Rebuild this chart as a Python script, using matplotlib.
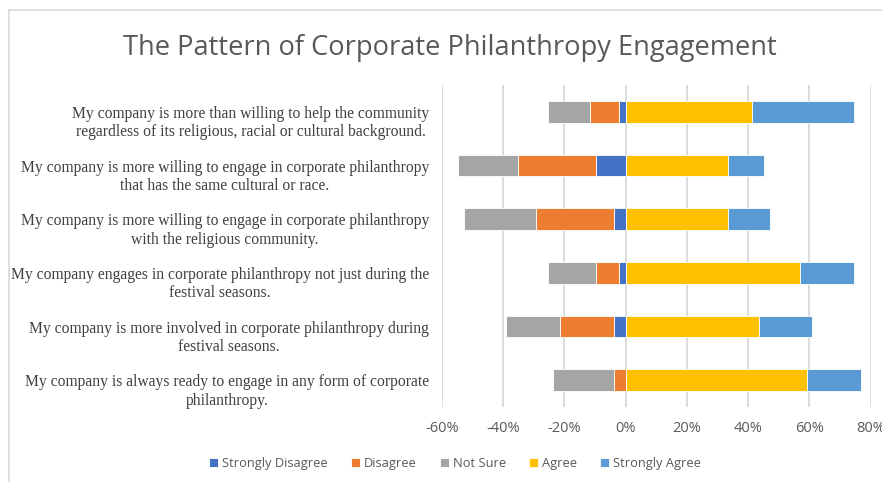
import matplotlib.pyplot as plt
import numpy as np
from matplotlib.patches import Rectangle

statements = [
    "My company is more than willing to help the community\nregardless of its religious, racial or cultural background.",
    "My company is more willing to engage in corporate philanthropy\nthat has the same cultural or race.",
    "My company is more willing to engage in corporate philanthropy\nwith the religious community.",
    "My company engages in corporate philanthropy not just during the\nfestival seasons.",
    "My company is more involved in corporate philanthropy during\nfestival seasons.",
    "My company is always ready to engage in any form of corporate\nphilanthropy.",
]
# percentages, rows listed top to bottom
strongly_disagree = [2.0, 9.8, 3.8, 2.0, 3.8, 0.0]
disagree = [9.7, 25.4, 25.5, 7.8, 17.7, 3.8]
not_sure = [13.7, 19.5, 23.4, 15.6, 17.5, 19.8]
agree = [41.1, 33.3, 33.3, 56.9, 43.4, 59.1]
strongly_agree = [33.6, 11.9, 13.8, 17.8, 17.5, 17.6]

colors = {
    "Strongly Disagree": "#4472C4",
    "Disagree": "#ED7D31",
    "Not Sure": "#A5A5A5",
    "Agree": "#FFC000",
    "Strongly Agree": "#5B9BD5",
}

fig = plt.figure(figsize=(8.82, 4.82), dpi=100)
ax = fig.add_axes([0.5008, 0.1556, 0.4864, 0.6681])

y = np.arange(len(statements))
sd = np.array(strongly_disagree)
d = np.array(disagree)
ns = np.array(not_sure)
a = np.array(agree)
sa = np.array(strongly_agree)

kw = dict(height=0.4, edgecolor="white", linewidth=0.6, zorder=3)
ax.barh(y, -sd, left=0, color=colors["Strongly Disagree"], label="Strongly Disagree", **kw)
ax.barh(y, -d, left=-sd, color=colors["Disagree"], label="Disagree", **kw)
ax.barh(y, -ns, left=-sd - d, color=colors["Not Sure"], label="Not Sure", **kw)
ax.barh(y, a, left=0, color=colors["Agree"], label="Agree", **kw)
ax.barh(y, sa, left=a, color=colors["Strongly Agree"], label="Strongly Agree", **kw)

ax.set_xlim(-60, 80)
ax.set_ylim(len(statements) - 0.5, -0.5)
ticks = np.arange(-60, 81, 20)
ax.set_xticks(ticks, labels=[f"{t}%" for t in ticks])
# labels sit a little below the bar centre, like the original
ax.set_yticks(y + 0.15, labels=statements)
for lbl in ax.get_yticklabels():
    lbl.set_multialignment("center")
    lbl.set_fontfamily("Liberation Serif")
    lbl.set_fontsize(11.25)
    lbl.set_color("#404040")
    lbl.set_linespacing(1.2)
for lbl in ax.get_xticklabels():
    lbl.set_fontfamily("Open Sans")
    lbl.set_fontsize(10.5)
    lbl.set_color("#595959")
ax.tick_params(axis="both", length=0)
ax.tick_params(axis="x", pad=10)
ax.tick_params(axis="y", pad=9)
ax.grid(axis="x", color="#D9D9D9", linewidth=1.3, zorder=0)
for s in ax.spines.values():
    s.set_visible(False)

fig.text(0.51, 0.9, "The Pattern of Corporate Philanthropy Engagement",
         ha="center", va="center", fontsize=19.6, color="#595959",
         family="Open Sans")

leg = fig.legend(loc="center", bbox_to_anchor=(0.516, 0.038), ncol=5,
                 frameon=False, handlelength=0.7, handleheight=0.7,
                 handletextpad=0.3, columnspacing=1.8,
                 prop={"family": "Open Sans", "size": 9.3})
for t in leg.get_texts():
    t.set_color("#595959")

# chart border
fig.add_artist(Rectangle((9 / 882, -0.1), 1.2, 1 - 10 / 482 + 0.1,
                         transform=fig.transFigure, fill=False,
                         edgecolor="#D9D9D9", linewidth=1.2))

fig.savefig("out.png", dpi=100)
